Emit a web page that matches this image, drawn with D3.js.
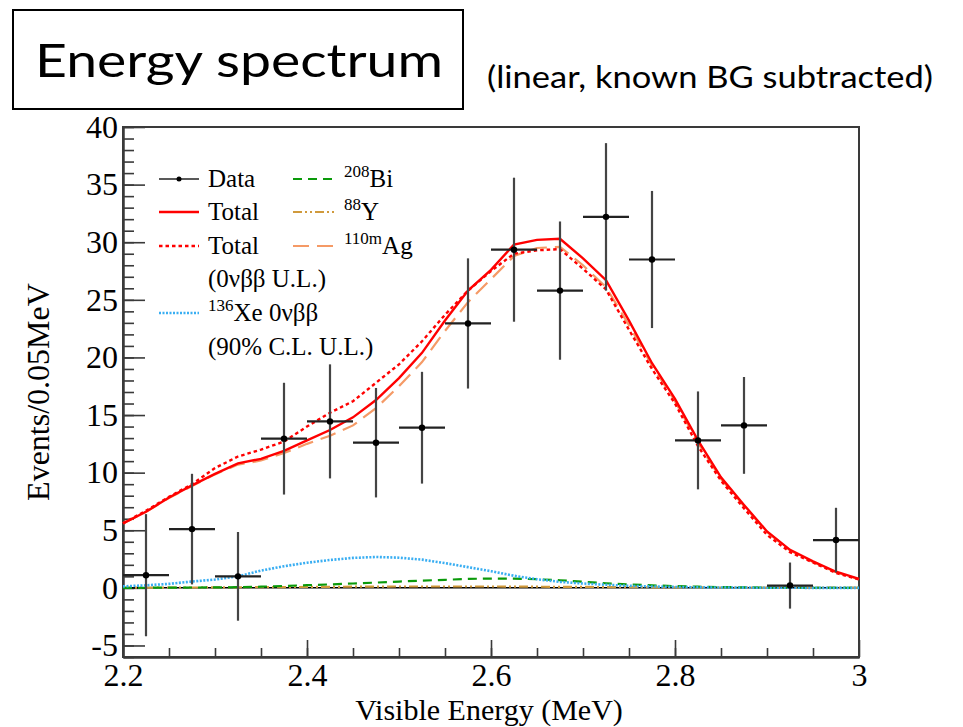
<!DOCTYPE html>
<html><head><meta charset="utf-8">
<script src="https://cdn.jsdelivr.net/npm/d3@7"></script>
<style>body{margin:0;background:#fff}svg{display:block}</style>
</head><body>
<script>
// ---------------- data ----------------
const binCenters = [2.225,2.275,2.325,2.375,2.425,2.475,2.525,2.575,2.625,2.675,2.725,2.775,2.825,2.875,2.925,2.975];
const dataValues = [1.1,5.1,1.0,12.95,14.45,12.6,13.9,22.95,29.35,25.8,32.2,28.5,12.8,14.1,0.2,4.15];
const dataErrors = [5.3,4.8,3.85,4.85,4.95,4.75,4.85,5.65,6.25,6.0,6.4,5.95,4.25,4.2,2.0,2.8];
const binHalfWidth = 0.025;

const curveEnergy = [2.200,2.225,2.250,2.275,2.300,2.325,2.350,2.375,2.400,2.425,2.450,2.475,2.500,2.525,2.550,2.575,2.600,2.625,2.650,2.675,2.700,2.725,2.750,2.775,2.800,2.825,2.850,2.875,2.900,2.925,2.950,2.975,3.000];
const totalBest = [5.6,6.6,7.85,8.9,9.9,10.8,11.2,11.9,12.8,13.7,14.8,16.3,18.2,20.4,23.2,25.8,27.6,29.8,30.2,30.3,28.6,26.7,23.2,19.5,16.4,12.8,9.6,7.2,4.9,3.3,2.3,1.4,0.78];
const totalUL   = [5.6,6.7,7.9,9.0,10.4,11.4,12.0,12.7,14.0,15.2,16.2,17.8,19.4,21.4,23.7,25.8,27.5,29.0,29.3,29.4,27.7,25.9,22.4,19.0,16.0,12.3,9.3,6.9,4.6,3.1,2.2,1.3,0.72];
const ag110m    = [5.6,6.6,7.8,8.85,9.85,10.7,11.05,11.7,12.5,13.2,14.1,15.6,17.5,19.6,22.3,24.8,26.8,28.8,29.5,29.6,28.0,26.1,22.8,19.3,16.2,12.6,9.45,7.1,4.85,3.25,2.25,1.35,0.75];
const xe136UL   = [0.13,0.22,0.35,0.55,0.72,1.0,1.5,1.88,2.18,2.42,2.6,2.68,2.62,2.45,2.15,1.8,1.45,1.05,0.75,0.52,0.38,0.27,0.18,0.12,0.08,0.05,0.03,0.02,0.01,0.01,0,0,0];
const bi208     = [0,0.01,0.02,0.03,0.04,0.06,0.1,0.17,0.23,0.3,0.38,0.46,0.55,0.63,0.7,0.78,0.81,0.8,0.75,0.66,0.53,0.4,0.3,0.22,0.15,0.1,0.07,0.04,0.03,0.02,0.01,0.01,0];
const y88       = [0.02,0.02,0.03,0.03,0.04,0.05,0.06,0.07,0.08,0.09,0.1,0.11,0.12,0.12,0.12,0.12,0.12,0.11,0.1,0.09,0.08,0.07,0.06,0.05,0.04,0.04,0.03,0.03,0.02,0.02,0.02,0.02,0.02];

const xMajorTicks = [2.2,2.4,2.6,2.8,3.0];
const xTickLabels = ["2.2","2.4","2.6","2.8","3"];
const yMajorTicks = [-5,0,5,10,15,20,25,30,35,40];
const yTickLabels = ["-5","0","5","10","15","20","25","30","35","40"];

const titleText = "Energy spectrum";
const subtitleText = "(linear, known BG subtracted)";
const xAxisTitle = "Visible Energy (MeV)";
const yAxisTitle = "Events/0.05MeV";

// ---------------- chart ----------------
const W = 963, H = 727;
const svg = d3.select("body").append("svg").attr("width", W).attr("height", H);
const serif = "'Liberation Serif','Times New Roman',serif";
const sans = "Lato,'Open Sans',sans-serif";

const L = 123, R = 859, T = 127, B = 657;
const x = d3.scaleLinear().domain([2.2, 3.0]).range([L, R]);
const y = d3.scaleLinear().domain([-6, 40]).range([B, T]);

// title box
svg.append("rect").attr("x", 13).attr("y", 10).attr("width", 450).attr("height", 99)
  .attr("fill", "none").attr("stroke", "#000").attr("stroke-width", 2);
svg.append("text").attr("x", 35).attr("y", 77).attr("font-family", sans).attr("font-size", 47)
  .attr("textLength", 408).attr("lengthAdjust", "spacingAndGlyphs").text(titleText);
svg.append("text").attr("x", 487).attr("y", 88).attr("font-family", sans).attr("font-size", 30)
  .attr("textLength", 446).attr("lengthAdjust", "spacingAndGlyphs").text(subtitleText);

const frameColor = "#3a3a3a";

// axes
const gx = svg.append("g").attr("transform", `translate(0,${B})`)
  .call(d3.axisBottom(x).tickValues(xMajorTicks).tickFormat((d,i) => xTickLabels[i]).tickSizeInner(-17).tickSizeOuter(0).tickPadding(6));
const gxm = svg.append("g").attr("transform", `translate(0,${B})`)
  .call(d3.axisBottom(x).tickValues(d3.range(2.25, 3.0, 0.05)).tickFormat("").tickSizeInner(-9).tickSizeOuter(0));
const gy = svg.append("g").attr("transform", `translate(${L},0)`)
  .call(d3.axisLeft(y).tickValues(yMajorTicks).tickFormat((d,i) => yTickLabels[i]).tickSizeInner(-22).tickSizeOuter(0).tickPadding(5));
const gym = svg.append("g").attr("transform", `translate(${L},0)`)
  .call(d3.axisLeft(y).tickValues(d3.range(-6, 41, 1)).tickFormat("").tickSizeInner(-11).tickSizeOuter(0));
[gx, gxm, gy, gym].forEach(g => {
  g.selectAll("path").attr("stroke", frameColor).attr("stroke-width", 2);
  g.selectAll("line").attr("stroke", frameColor).attr("stroke-width", 1.6);
  g.selectAll("text").attr("font-family", serif).attr("font-size", 32).attr("fill", "#000");
});
// frame top/right
svg.append("rect").attr("x", L).attr("y", T).attr("width", R - L).attr("height", B - T)
  .attr("fill", "none").attr("stroke", frameColor).attr("stroke-width", 2);

// axis titles
svg.append("text").attr("x", 489).attr("y", 720).attr("text-anchor", "middle")
  .attr("font-family", serif).attr("font-size", 30).text(xAxisTitle);
svg.append("text").attr("transform", "translate(49,392) rotate(-90)").attr("text-anchor", "middle")
  .attr("font-family", serif).attr("font-size", 32).text(yAxisTitle);

const plot = svg.append("g");
// zero line
plot.append("line").attr("x1", x(2.2)).attr("x2", x(3.0)).attr("y1", y(0)).attr("y2", y(0))
  .attr("stroke", "#000").attr("stroke-width", 1.5);

const line = arr => d3.line().x((d, i) => x(curveEnergy[i])).y(d => y(d))(arr);
const curves = [
  {v: y88, color: "#d09a3c", w: 2.2, dash: "9,3,2,3,2,3"},
  {v: bi208, color: "#0a9a0a", w: 2.2, dash: "9,6"},
  {v: xe136UL, color: "#39aef2", w: 2.6, dash: "2,1.5"},
  {v: ag110m, color: "#f59a66", w: 2.2, dash: "16,8"},
  {v: totalUL, color: "#ff0000", w: 2.4, dash: "3.5,3"},
  {v: totalBest, color: "#ff0000", w: 2.4, dash: null},
];
curves.forEach(c => {
  plot.append("path").attr("d", line(c.v)).attr("fill", "none").attr("stroke", c.color)
    .attr("stroke-width", c.w).attr("stroke-dasharray", c.dash);
});

// data points
const dg = plot.append("g");
binCenters.forEach((e, i) => {
  const v = dataValues[i], er = dataErrors[i];
  dg.append("line").attr("x1", x(e)).attr("x2", x(e)).attr("y1", y(v - er)).attr("y2", y(v + er))
    .attr("stroke", "#444").attr("stroke-width", 2.2);
  dg.append("line").attr("x1", x(e - binHalfWidth)).attr("x2", x(e + binHalfWidth)).attr("y1", y(v)).attr("y2", y(v))
    .attr("stroke", "#222").attr("stroke-width", 2.2);
  dg.append("circle").attr("cx", x(e)).attr("cy", y(v)).attr("r", 3.2).attr("fill", "#000");
});

// legend
const lg = svg.append("g").attr("font-family", serif).attr("font-size", 25);
const legendRows = [
  {lx: 159, tx: 208, yc: 179, color: "#222", dash: null, w: 1.6, marker: true, parts: [["Data", 0]]},
  {lx: 159, tx: 208, yc: 212, color: "#ff0000", dash: null, w: 2.4, parts: [["Total", 0]]},
  {lx: 159, tx: 208, yc: 246, color: "#ff0000", dash: "3.5,3", w: 2.4, parts: [["Total", 0]]},
  {lx: null, tx: 208, yc: 279, parts: [["(0νββ U.L.)", 0]]},
  {lx: 159, tx: 208, yc: 313, color: "#39aef2", dash: "2,1.5", w: 2.6, parts: [["136", 1], ["Xe 0νββ", 0]]},
  {lx: null, tx: 208, yc: 347, parts: [["(90% C.L. U.L.)", 0]]},
  {lx: 293, tx: 344, yc: 179, color: "#0a9a0a", dash: "9,6", w: 2.2, parts: [["208", 1], ["Bi", 0]]},
  {lx: 293, tx: 344, yc: 212, color: "#d09a3c", dash: "9,3,2,3,2,3", w: 2.2, parts: [["88", 1], ["Y", 0]]},
  {lx: 293, tx: 344, yc: 246, color: "#f59a66", dash: "16,8", w: 2.2, parts: [["110m", 1], ["Ag", 0]]},
];
legendRows.forEach(r => {
  if (r.lx !== null) {
    lg.append("line").attr("x1", r.lx).attr("x2", r.lx + (r.tx === 208 ? 40 : 42)).attr("y1", r.yc).attr("y2", r.yc)
      .attr("stroke", r.color).attr("stroke-width", r.w).attr("stroke-dasharray", r.dash);
    if (r.marker) lg.append("circle").attr("cx", r.lx + 20).attr("cy", r.yc).attr("r", 2.5).attr("fill", "#000");
  }
  const t = lg.append("text").attr("x", r.tx).attr("y", r.yc + 8);
  let raised = false;
  r.parts.forEach(([s, sup]) => {
    const ts = t.append("tspan").text(s);
    if (sup) { ts.attr("font-size", 17).attr("dy", -10); raised = true; }
    else if (raised) { ts.attr("dy", 10); raised = false; }
  });
});
</script>
</body></html>
